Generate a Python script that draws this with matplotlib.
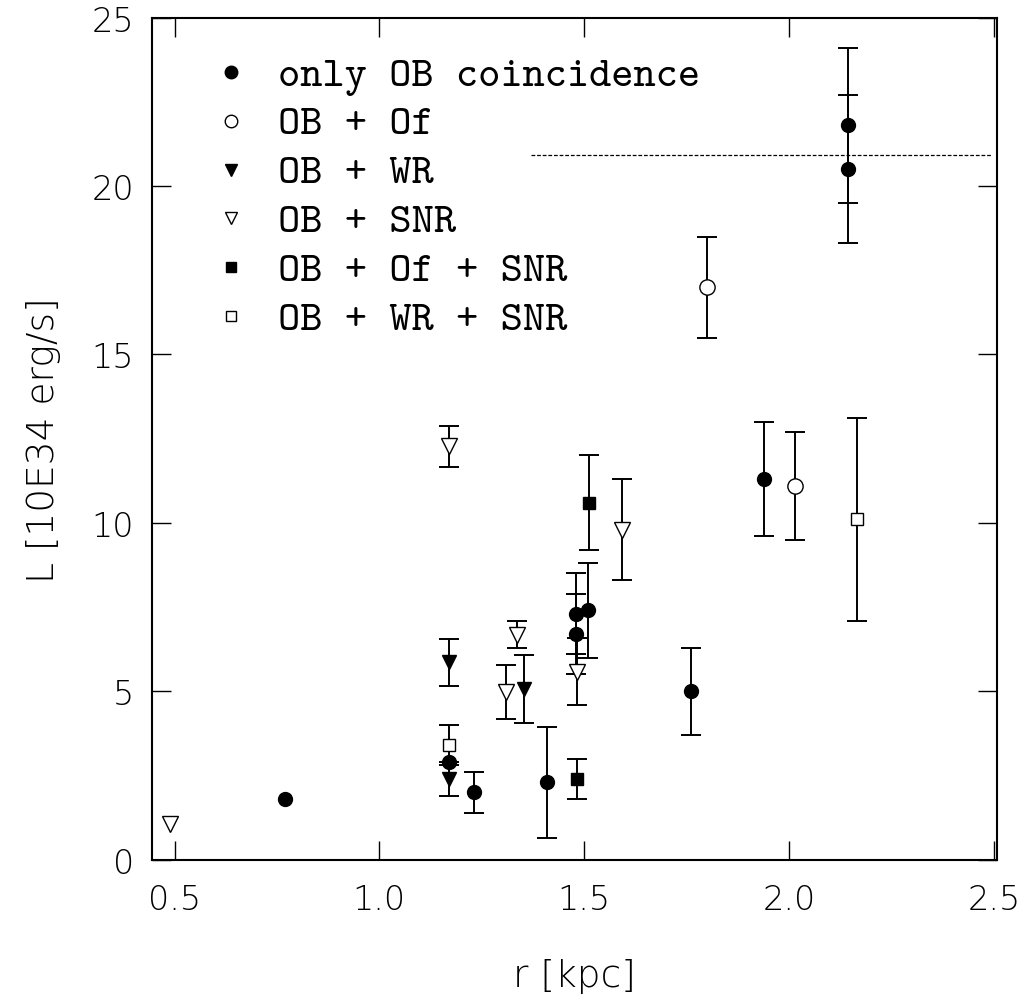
import matplotlib
matplotlib.use('Agg')
from matplotlib import pyplot as plt
import numpy as np

# data: r [kpc], L [10E34 erg/s], error
ob_r = [0.77, 1.17, 1.23, 1.41, 1.48, 1.48, 1.51, 1.76, 1.94, 2.145, 2.145]
ob_L = [1.8, 2.9, 2.0, 2.3, 6.7, 7.3, 7.4, 5.0, 11.3, 21.8, 20.5]
ob_err = [0, 0, 0.6, 1.65, 1.2, 1.2, 1.4, 1.3, 1.7, 2.3, 2.2]

of_r = [1.80, 2.015]
of_L = [17.0, 11.1]
of_err = [1.5, 1.6]

wr_r = [1.17, 1.353, 1.17]
wr_L = [5.86, 5.07, 2.4]
wr_err = [0.7, 1.0, 0.5]

snr_r = [0.49, 1.17, 1.31, 1.337, 1.482, 1.592]
snr_L = [1.06, 12.27, 4.97, 6.68, 5.58, 9.79]
snr_err = [0, 0.6, 0.8, 0.4, 1.0, 1.5]

ofsnr_r = [1.513, 1.482]
ofsnr_L = [10.6, 2.4]
ofsnr_err = [1.4, 0.6]

wrsnr_r = [1.17, 2.165]
wrsnr_L = [3.4, 10.1]
wrsnr_err = [0.6, 3.0]

# dashed reference level
ref_L = 20.93
ref_r = [1.37, 2.495]

labels = ['only OB coincidence', 'OB + Of', 'OB + WR', 'OB + SNR',
          'OB + Of + SNR', 'OB + WR + SNR']

groups = [
    (ob_r, ob_L, ob_err, 'o', 'black', 10),
    (of_r, of_L, of_err, 'o', 'white', 11),
    (wr_r, wr_L, wr_err, 'v', 'black', 10),
    (snr_r, snr_L, snr_err, 'v', 'white', 11),
    (ofsnr_r, ofsnr_L, ofsnr_err, 's', 'black', 9),
    (wrsnr_r, wrsnr_L, wrsnr_err, 's', 'white', 9),
]

tick_font = {'family': 'DejaVu Sans', 'weight': 'light', 'size': 24}
label_font = {'family': 'DejaVu Sans', 'weight': 'light', 'size': 27}

fig = plt.figure(figsize=(10.29, 10.04), dpi=100)
ax = fig.add_axes([0.1477, 0.1427, 0.8209, 0.8388])

for r, L, err, m, fc, ms in groups:
    r = np.array(r)
    L = np.array(L)
    err = np.array(err)
    has = err > 0
    ax.errorbar(r[has], L[has], yerr=err[has], fmt='none', ecolor='black',
                elinewidth=1.4, capsize=7, capthick=1.4, zorder=2)
    ax.plot(r, L, linestyle='none', marker=m, markersize=ms,
            markerfacecolor=fc, markeredgecolor='black', markeredgewidth=1.0,
            zorder=3)

ax.hlines(ref_L, ref_r[0], ref_r[1], colors='black', linestyles=(0, (3, 1.5)),
          linewidth=0.9)

ax.set_xlim(0.445, 2.507)
ax.set_ylim(0, 25)
ax.set_xticks([0.5, 1.0, 1.5, 2.0, 2.5])
ax.set_xticklabels(['0.5', '1.0', '1.5', '2.0', '2.5'])
ax.set_yticks([0, 5, 10, 15, 20, 25])

ax.tick_params(direction='in', length=13.5, width=1.0, top=True, right=True)
ax.tick_params(axis='x', pad=17)
ax.tick_params(axis='y', pad=13)
for lab in ax.get_xticklabels() + ax.get_yticklabels():
    lab.set_fontfamily(tick_font['family'])
    lab.set_fontweight(tick_font['weight'])
    lab.set_fontsize(tick_font['size'])
for s in ax.spines.values():
    s.set_linewidth(1.5)

ax.set_xlabel('r [kpc]', fontdict=label_font, labelpad=30)
ax.set_ylabel('L [10E34 erg/s]', fontdict=label_font, labelpad=22)

# legend drawn by hand (marker + text rows)
row0 = (860.7 - 73) / 842.1
step = 48.8 / 842.1
mx = (231 - 152) / 844.7
tx = (278 - 152) / 844.7
for i, (lab, g) in enumerate(zip(labels, groups)):
    y = row0 - i * step
    ms = 9 if g[3] == 'o' else (8.5 if g[3] == 'v' else 7.5)
    ax.plot([mx], [y], transform=ax.transAxes, linestyle='none',
            marker=g[3], markersize=ms, markerfacecolor=g[4],
            markeredgecolor='black', markeredgewidth=1.0, clip_on=False)
    ax.text(tx, y - 12.7 / 842.1, lab, transform=ax.transAxes,
            family='cmtt10', fontsize=30.5, va='baseline', ha='left')

fig.savefig('out.png', dpi=100)
